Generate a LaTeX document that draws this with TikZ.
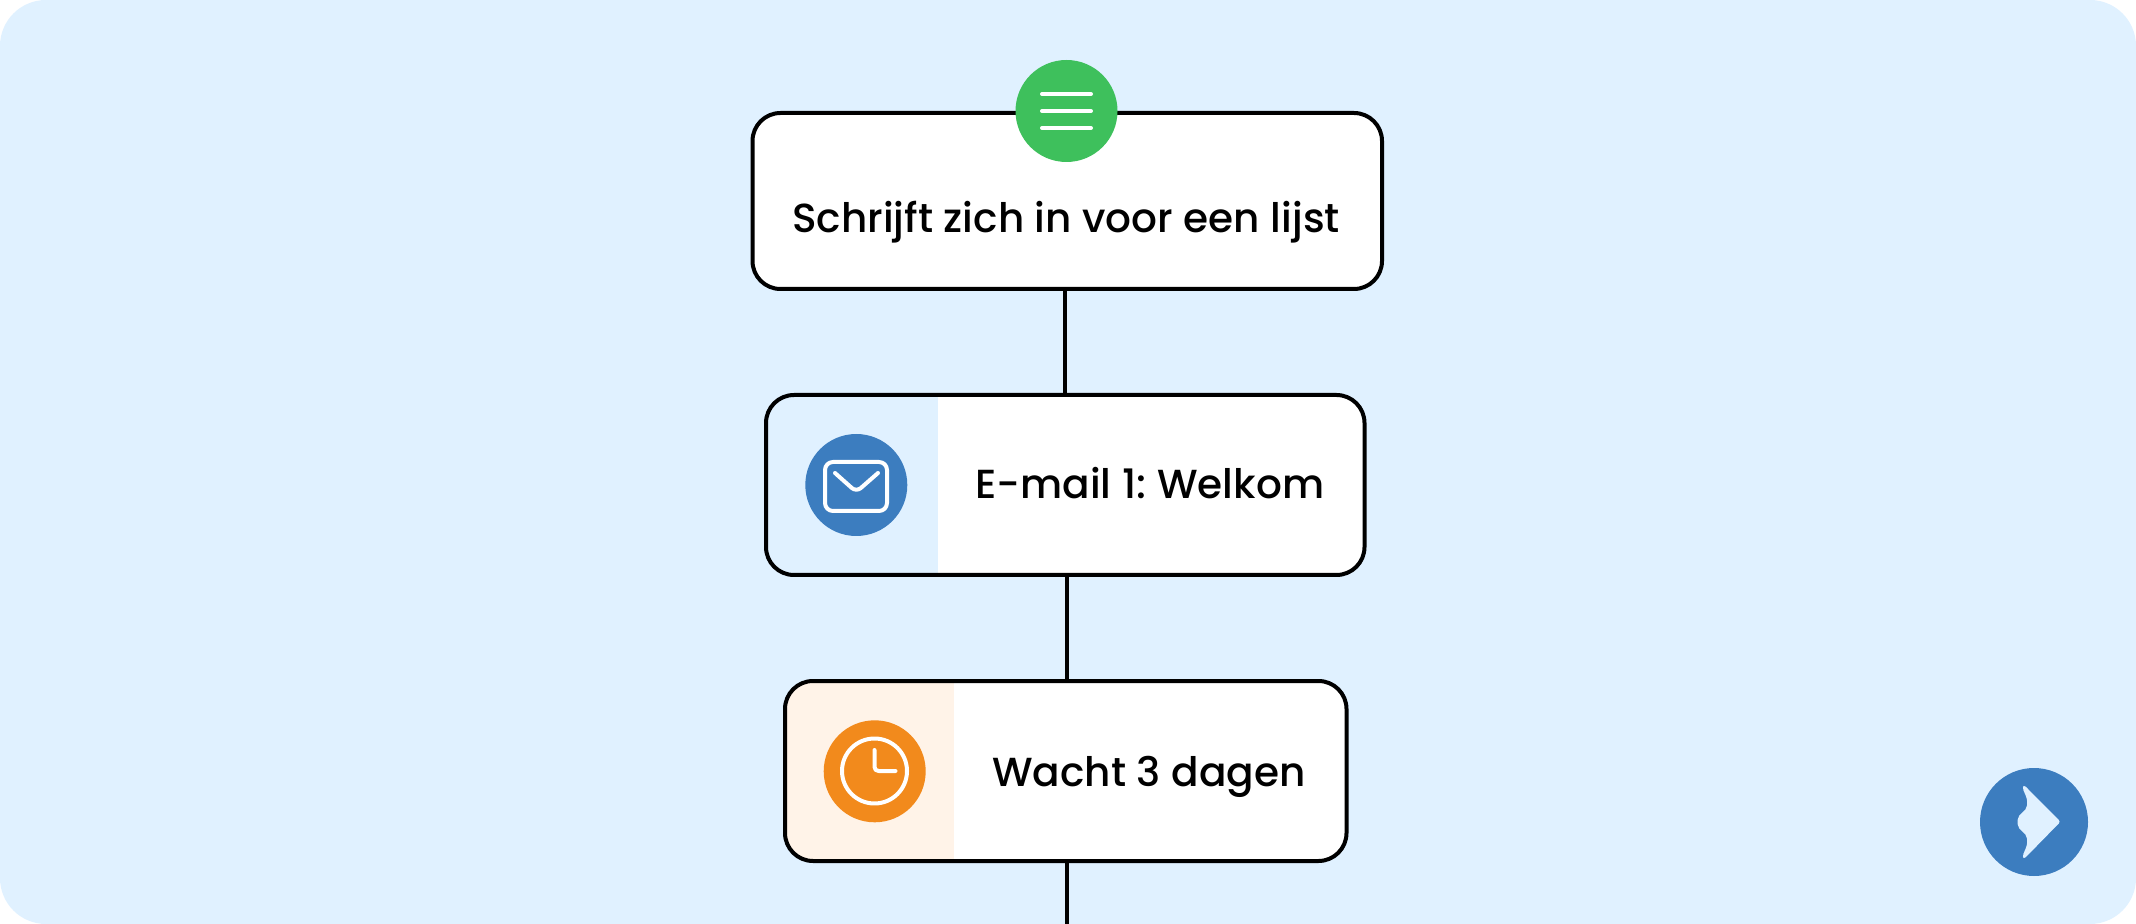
\documentclass[tikz,border=0pt]{standalone}
\usepackage{fontspec}
\setmainfont{Poppins Medium}
\definecolor{bgblue}{HTML}{E0F1FF}
\definecolor{brandblue}{HTML}{3C7DBF}
\definecolor{brandgreen}{HTML}{3EC05C}
\definecolor{brandorange}{HTML}{F28A1C}
\definecolor{paleorange}{HTML}{FFF3E8}
\tikzset{
  flowbox/.style={draw=black,line width=2pt,rounded corners=14pt,inner sep=0pt,outer sep=0pt,anchor=north west},
  iconcircle/.style={circle,inner sep=0pt,outer sep=0pt,minimum size=51pt},
  label/.style={inner sep=0pt,anchor=base west,text=black,font=\fontsize{20.3}{24}\selectfont},
  iconline/.style={draw=white,line width=2pt,line cap=round,line join=round},
  connector/.style={draw=black,line width=2pt}
}
\begin{document}
\begin{tikzpicture}[x=0.5pt,y=-0.5pt]
\useasboundingbox (0,0) rectangle (2136,924);
\fill[white] (0,0) rectangle (2136,924);
\fill[bgblue,rounded corners=23pt] (0,0) rectangle (2136,924);
% white fills and panels
\fill[white,rounded corners=14pt] (752.5,113) rectangle (1382,289);
\fill[white,rounded corners=14pt] (766,395) rectangle (1364.5,575);
\fill[white,rounded corners=14pt] (785,681) rectangle (1346.5,861);
\begin{scope}
\clip[rounded corners=14pt] (766,395) rectangle (1364.5,575);
\fill[bgblue] (766,395) rectangle (938,575);
\end{scope}
\begin{scope}
\clip[rounded corners=14pt] (785,681) rectangle (1346.5,861);
\fill[paleorange] (785,681) rectangle (954,861);
\end{scope}
% boxes
\node[flowbox,minimum width=314.75pt,minimum height=88pt] (box1) at (752.5,113) {};
\node[flowbox,minimum width=299.25pt,minimum height=90pt] (box2) at (766,395) {};
\node[flowbox,minimum width=280.75pt,minimum height=90pt] (box3) at (785,681) {};
\coordinate (entry) at (1065,395);
\coordinate (exit) at (1067,924);
% connectors
\draw[connector] (entry |- box1.south) -- (entry |- box2.north);
\draw[connector] (exit |- box2.south) -- (exit |- box3.north);
\draw[connector] (exit |- box3.south) -- (exit);
% labels
\node[label] (t1) at (792,233) {Schrijft zich in voor een lijst};
\node[label] (t2) at (975,498.5) {E-mail 1:\kern-1.5pt{} Welkom};
\node[label] (t3) at (992,786) {Wacht 3 dagen};
% green icon
\node[iconcircle,fill=brandgreen] (ic1) at (1066.5,111) {};
\draw[iconline] (1042,94) -- (1091,94);
\draw[iconline] (1042,111) -- (1091,111);
\draw[iconline] (1042,128) -- (1091,128);
% mail icon
\node[iconcircle,fill=brandblue] (ic2) at (856.3,485) {};
\draw[iconline,rounded corners=4pt] (825,462) rectangle (887,511);
\draw[iconline,rounded corners=3pt] (835,473) -- (856.3,492) -- (878,473);
% clock icon
\node[iconcircle,fill=brandorange] (ic3) at (874.7,771.3) {};
\draw[iconline] (874.5,771) circle (32.5);
\draw[iconline,rounded corners=2pt] (874.5,750) -- (874.5,771) -- (895.5,771);
% logo
\node[circle,inner sep=0pt,outer sep=0pt,minimum size=54pt,fill=brandblue] (logo) at (2034,822) {};
\fill[bgblue,rounded corners=1.2pt] (2024,785) -- (2060.5,821.7) -- (2024,859) -- (2022.5,856)
  .. controls (2025,850) and (2027,846) .. (2027,841)
  .. controls (2027,833) and (2017.7,830) .. (2017.7,822)
  .. controls (2017.7,814) and (2027,811) .. (2027,803)
  .. controls (2027,798) and (2025,794) .. (2022.5,788) -- cycle;
\end{tikzpicture}
\end{document}
